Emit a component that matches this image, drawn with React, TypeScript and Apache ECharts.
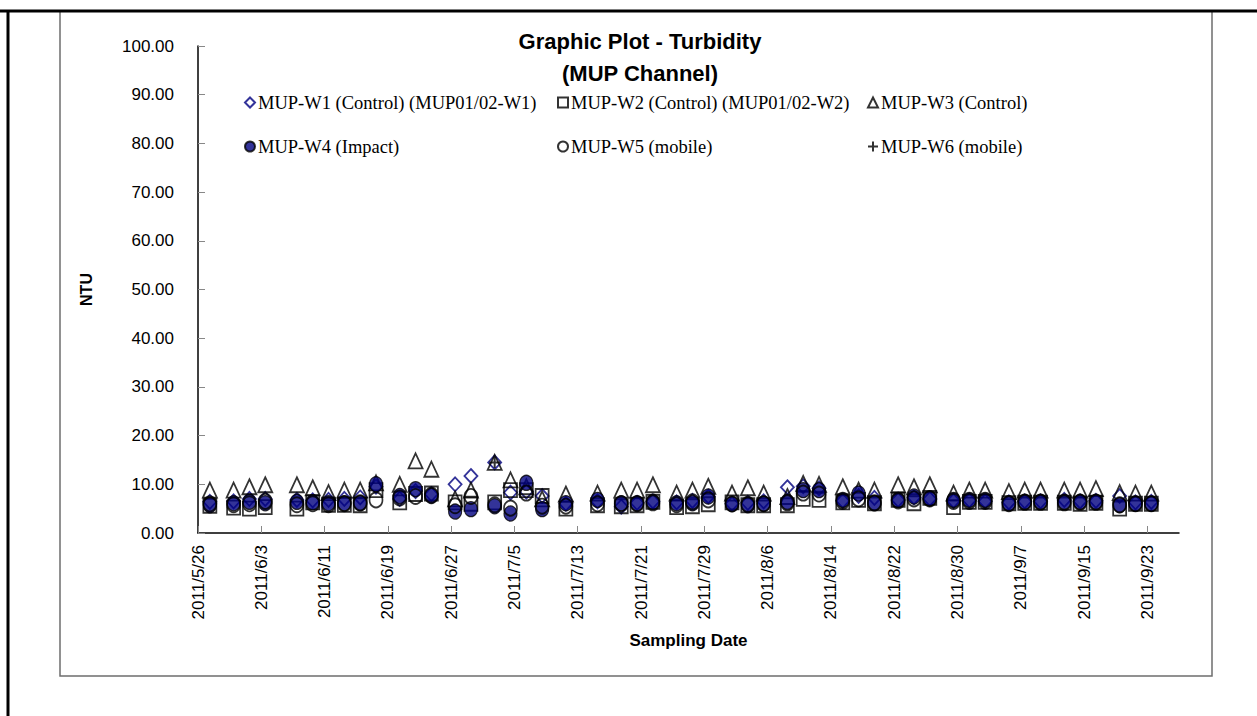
import React, { useEffect, useRef } from "react";
import * as echarts from "echarts";

const SAMPLE_DATES = [
  "2011/5/27", "2011/5/30", "2011/6/1", "2011/6/3", "2011/6/7", "2011/6/9", "2011/6/11",
  "2011/6/13", "2011/6/15", "2011/6/17", "2011/6/20", "2011/6/22", "2011/6/24", "2011/6/27",
  "2011/6/29", "2011/7/2", "2011/7/4", "2011/7/6", "2011/7/8", "2011/7/11", "2011/7/15",
  "2011/7/18", "2011/7/20", "2011/7/22", "2011/7/25", "2011/7/27", "2011/7/29", "2011/8/1",
  "2011/8/3", "2011/8/5", "2011/8/8", "2011/8/10", "2011/8/12", "2011/8/15", "2011/8/17",
  "2011/8/19", "2011/8/22", "2011/8/24", "2011/8/26", "2011/8/29", "2011/8/31", "2011/9/2",
  "2011/9/5", "2011/9/7", "2011/9/9", "2011/9/12", "2011/9/14", "2011/9/16", "2011/9/19",
  "2011/9/21", "2011/9/23",
];

const W1 = [6.4, 6.5, 7.0, 7.0, 6.8, 6.7, 6.8, 7.0, 7.3, 9.5, 7.0, 8.6, 8.0, 10.0, 11.7, 14.5, 8.3,
  8.5, 7.6, 6.0, 6.5, 5.4, 6.2, 6.5, 6.3, 6.6, 7.5, 6.0, 6.2, 6.5, 9.4, 9.6, 9.2, 6.6, 7.6, 7.2,
  6.8, 7.3, 7.0, 6.6, 6.7, 6.5, 6.3, 6.5, 6.5, 6.8, 6.5, 6.6, 7.6, 6.3, 6.4];
const W2 = [5.6, 5.2, 5.0, 5.3, 5.0, 6.3, 5.8, 5.8, 5.7, 8.8, 6.3, 8.0, 8.1, 6.3, 6.0, 6.3, 8.8,
  8.8, 7.6, 5.0, 5.7, 5.5, 5.7, 6.4, 5.3, 5.5, 5.9, 6.3, 5.7, 5.7, 5.7, 7.0, 6.8, 6.3, 6.8, 6.1,
  6.8, 6.1, 7.2, 5.3, 6.4, 6.4, 6.1, 6.2, 6.2, 6.2, 6.0, 6.2, 5.0, 6.0, 6.0];
const W3 = [8.8, 8.8, 9.5, 9.9, 9.9, 9.3, 8.3, 8.8, 8.8, 10.3, 10.0, 14.8, 13.1, 7.0, 8.8, 14.5, 10.9,
  9.5, 7.0, 8.0, 8.2, 8.8, 8.8, 9.9, 8.2, 8.8, 9.6, 8.2, 9.3, 8.2, 7.5, 10.2, 10.0, 9.5, 8.8, 8.8,
  9.9, 9.5, 9.9, 8.2, 8.8, 8.8, 8.5, 8.8, 8.8, 8.8, 8.8, 9.1, 8.3, 8.2, 8.2];
const W4 = [5.7, 6.1, 6.4, 6.1, 6.4, 6.3, 6.1, 6.1, 6.1, 10.0, 7.6, 9.0, 7.6, 4.4, 4.9, 5.5, 4.0,
  10.3, 4.9, 6.1, 6.8, 6.1, 6.1, 6.4, 6.1, 6.1, 7.5, 5.9, 5.7, 6.0, 6.4, 8.8, 8.8, 6.8, 8.1, 6.1,
  6.8, 7.5, 7.1, 6.8, 6.8, 6.8, 6.1, 6.4, 6.4, 6.4, 6.4, 6.4, 5.7, 6.0, 6.0];
const W5 = [6.0, 5.8, 6.0, 6.5, 5.8, 6.0, 5.8, 6.0, 6.2, 6.8, 7.2, 7.5, 7.8, 5.6, 7.5, 5.8, 5.1,
  8.2, 5.5, 5.5, 6.0, 6.0, 6.0, 6.2, 5.8, 6.4, 6.8, 6.0, 5.9, 6.0, 6.2, 8.2, 8.0, 6.5, 7.0, 6.2,
  6.6, 7.0, 7.0, 6.5, 6.5, 6.5, 6.0, 6.3, 6.3, 6.2, 6.3, 6.3, 5.8, 6.0, 6.0];
const W6 = [null, null, null, null, null, null, null, null, null, null, null, null, null, null,
  null, 14.5, null, null, null, null, null, null, null, null, null, null, null, null, null, null,
  null, null, null, null, null, null, null, null, null, null, null, null, null, null, null, null,
  null, null, null, null, null];

const SERIES_NAMES = [
  "MUP-W1 (Control) (MUP01/02-W1)",
  "MUP-W2 (Control) (MUP01/02-W2)",
  "MUP-W3 (Control)",
  "MUP-W4 (Impact)",
  "MUP-W5 (mobile)",
  "MUP-W6 (mobile)",
];

const X_TICK_LABELS = [
  "2011/5/26", "2011/6/3", "2011/6/11", "2011/6/19", "2011/6/27", "2011/7/5", "2011/7/13",
  "2011/7/21", "2011/7/29", "2011/8/6", "2011/8/14", "2011/8/22", "2011/8/30", "2011/9/7",
  "2011/9/15", "2011/9/23",
];
const X_START = "2011/5/26";
const X_END = "2011/9/27";

const DAY = 86400000;
const toUTC = (s: string) => {
  const [y, m, d] = s.split("/").map(Number);
  return Date.UTC(y, m - 1, d);
};
const dayOffset = (s: string) => (toUTC(s) - toUTC(X_START)) / DAY;
const dayToLabel = (v: number) => {
  const t = new Date(toUTC(X_START) + Math.round(v) * DAY);
  return `${t.getUTCFullYear()}/${t.getUTCMonth() + 1}/${t.getUTCDate()}`;
};

const SANS = "'Liberation Sans', Arial, Helvetica, sans-serif";
const SERIF = "'Liberation Serif', 'Times New Roman', serif";

export default function App() {
  const ref = useRef<HTMLDivElement>(null);
  useEffect(() => {
    const chart = echarts.init(ref.current!, null, { renderer: "svg" });
    const values = [W1, W2, W3, W4, W5, W6];
    const symbols = ["diamond", "rect", "triangle", "circle", "circle", "path://M5,0 L5,10 M0,5 L10,5"];
    const sizes: any[] = [[13, 14], [13, 14], [14, 15], [13, 15], [13, 15], [11, 11]];
    const styles: any[] = [
      { color: "rgba(255,255,255,0)", borderColor: "#000080", borderWidth: 1.8 },
      { color: "rgba(255,255,255,0)", borderColor: "#000000", borderWidth: 1.8 },
      { color: "rgba(255,255,255,0)", borderColor: "#000000", borderWidth: 1.8 },
      { color: "#000080", borderColor: "#000000", borderWidth: 1.2 },
      { color: "rgba(255,255,255,0)", borderColor: "#000000", borderWidth: 1.8 },
      { color: "rgba(255,255,255,0)", borderColor: "#000000", borderWidth: 2 },
    ];
    const legendPos = [
      [244, 93], [557, 93], [867, 93],
      [244, 137], [557, 137], [867, 137],
    ];
    const series = SERIES_NAMES.map((name, i) => ({
      name,
      type: "scatter",
      symbol: symbols[i],
      symbolSize: sizes[i],
      itemStyle: styles[i],
      data: SAMPLE_DATES.map((d, k) => [dayOffset(d) + 0.5, values[i][k]]).filter((p) => p[1] !== null),
    }));
    const tickDays = X_TICK_LABELS.map(dayOffset);
    chart.setOption({
      animation: false,
      backgroundColor: "#ffffff",
      title: {
        text: "Graphic Plot - Turbidity\n(MUP Channel)",
        left: 640,
        textAlign: "center",
        top: 25,
        padding: 0,
        textStyle: { fontFamily: SANS, fontWeight: "bold", fontSize: 22, lineHeight: 32, color: "#000" },
      },
      legend: SERIES_NAMES.map((n, i) => ({
        data: [n],
        left: legendPos[i][0],
        top: legendPos[i][1],
        itemWidth: 10,
        itemHeight: 10,
        padding: 0,
        textStyle: { fontFamily: SERIF, fontSize: 18.5, color: "#000", padding: [0, 0, 0, -2] },
        selectedMode: false,
      })),
      grid: { left: 198, right: 78, top: 46, bottom: 183, containLabel: false },
      xAxis: {
        type: "value",
        min: 0,
        max: dayOffset(X_END),
        name: "Sampling Date",
        nameLocation: "middle",
        nameGap: 99,
        nameTextStyle: { fontFamily: SANS, fontWeight: "bold", fontSize: 17, color: "#000", verticalAlign: "top" },
        axisLine: { lineStyle: { color: "#000", width: 1.5 } },
        axisTick: { inside: true, length: 7, customValues: tickDays, lineStyle: { color: "#888", width: 1 } },
        axisLabel: {
          customValues: tickDays,
          rotate: 90,
          margin: 12,
          formatter: (v: number) => dayToLabel(v),
          fontFamily: SANS,
          fontSize: 17,
          color: "#000",
        },
        splitLine: { show: false },
      },
      yAxis: {
        type: "value",
        min: 0,
        max: 100,
        interval: 10,
        name: "NTU",
        nameLocation: "middle",
        nameRotate: 90,
        nameGap: 104,
        nameTextStyle: { fontFamily: SANS, fontWeight: "bold", fontSize: 16, color: "#000" },
        axisLine: { show: true, lineStyle: { color: "#000", width: 1.5 } },
        axisTick: { show: true, inside: true, length: 7, lineStyle: { color: "#888", width: 1 } },
        axisLabel: {
          margin: 24,
          formatter: (v: number) => v.toFixed(2),
          fontFamily: SANS,
          fontSize: 17,
          color: "#000",
        },
        splitLine: { show: false },
      },
      graphic: [
        { type: "rect", shape: { x: 60, y: 11, width: 1152, height: 665 }, style: { fill: "none", stroke: "#6e6e6e", lineWidth: 1.5 }, z: 0 },
        { type: "line", shape: { x1: 0, y1: 11, x2: 1257, y2: 11 }, style: { stroke: "#000", lineWidth: 3 }, z: 10 },
        { type: "line", shape: { x1: 8, y1: 11, x2: 8, y2: 716 }, style: { stroke: "#000", lineWidth: 3 }, z: 10 },
      ],
      series,
    });
    return () => chart.dispose();
  }, []);
  return (
    <div
      ref={ref}
      style={{ position: "fixed", left: 0, top: 0, width: 1257, height: 716, background: "#fff" }}
    />
  );
}
